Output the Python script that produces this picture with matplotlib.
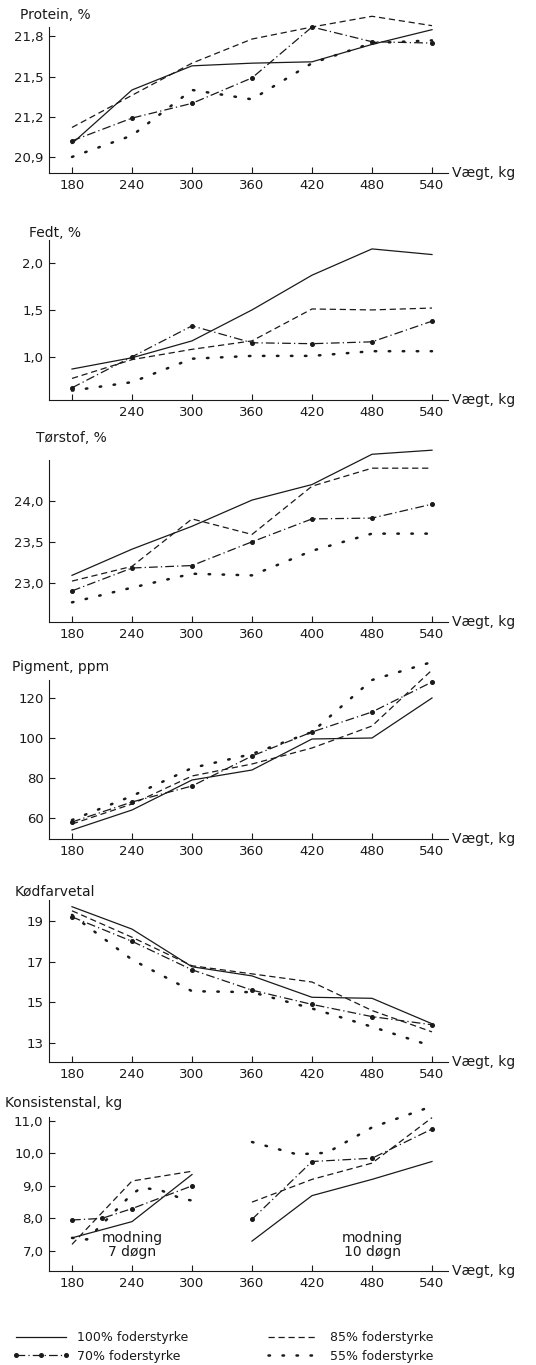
import matplotlib.pyplot as plt

# weights (kg) and tick labels
weights = [180, 240, 300, 360, 420, 480, 540]
xlabels = ["180", "240", "300", "360", "420", "480", "540"]
xlabels_fedt = ["", "240", "300", "360", "420", "480", "540"]
xlabels_tor = ["180", "240", "300", "360", "400", "480", "540"]

# Protein, %
prot_100 = [21.00, 21.40, 21.58, 21.60, 21.61, 21.74, 21.85]
prot_85 = [21.12, 21.36, 21.60, 21.78, 21.87, 21.95, 21.88]
prot_70 = [21.02, 21.19, 21.30, 21.49, 21.87, 21.76, 21.75]
prot_55 = [20.90, 21.06, 21.40, 21.33, 21.60, 21.75, 21.77]

# Fedt, %
fedt_100 = [0.87, 0.99, 1.17, 1.50, 1.87, 2.15, 2.09]
fedt_85 = [0.77, 0.97, 1.08, 1.17, 1.51, 1.50, 1.52]
fedt_70 = [0.67, 1.00, 1.33, 1.15, 1.14, 1.16, 1.38]
fedt_55 = [0.64, 0.73, 0.98, 1.01, 1.01, 1.06, 1.06]

# Tørstof, %
tor_100 = [23.09, 23.41, 23.69, 24.01, 24.20, 24.57, 24.62]
tor_85 = [23.02, 23.20, 23.78, 23.59, 24.18, 24.40, 24.40]
tor_70 = [22.90, 23.18, 23.21, 23.50, 23.78, 23.79, 23.96]
tor_55 = [22.76, 22.94, 23.11, 23.09, 23.39, 23.60, 23.60]

# Pigment, ppm
pig_100 = [54, 64, 79, 84, 99.5, 100, 120]
pig_85 = [57, 67, 81, 87, 95, 106, 134]
pig_70 = [58, 68, 76, 91, 103, 113, 128]
pig_55 = [59, 71, 85, 92, 103, 129, 138]

# Kødfarvetal
kod_100 = [19.7, 18.6, 16.75, 16.3, 15.25, 15.2, 13.95]
kod_85 = [19.5, 18.2, 16.8, 16.4, 16.0, 14.6, 13.55]
kod_70 = [19.2, 18.0, 16.6, 15.6, 14.9, 14.3, 13.9]
kod_55 = [19.3, 17.1, 15.55, 15.5, 14.7, 13.8, 12.85]

# Konsistenstal, kg  (7 døgn / 10 døgn modning)
w7 = [180, 240, 300]
kon7_100 = [7.4, 7.9, 9.35]
kon7_85 = [7.2, 9.15, 9.45]
w7_70 = [180, 210, 240, 300]
kon7_70 = [7.95, 8.0, 8.3, 9.0]
w7_55 = [180, 195, 240, 250, 270, 290, 300]
kon7_55 = [7.4, 7.35, 8.75, 8.95, 8.85, 8.6, 8.55]
w10 = [360, 420, 480, 540]
kon10_100 = [7.3, 8.7, 9.2, 9.75]
kon10_85 = [8.5, 9.2, 9.7, 11.1]
kon10_70 = [7.97, 9.75, 9.85, 10.75]
w10_55 = [360, 405, 435, 480, 540]
kon10_55 = [10.35, 9.97, 10.02, 10.8, 11.45]

labels = ["100% foderstyrke", "85% foderstyrke", "70% foderstyrke", "55% foderstyrke"]

ink = "#1a1a1a"
styles = {
    100: dict(color=ink, lw=0.9, linestyle="-"),
    85: dict(color=ink, lw=0.9, linestyle=(0, (5, 3))),
    70: dict(color=ink, lw=0.9, linestyle=(0, (7, 2.5, 1, 2.5)), marker="o", ms=2.6),
    55: dict(color=ink, lw=1.8, linestyle=(0, (0.6, 5)), dash_capstyle="round"),
}

W, H = 536, 1365
fig = plt.figure(figsize=(W / 100, H / 100), dpi=100)
L, R = 49, 448


def panel(top, bottom, ylim, yticks, ylabels, title, tdx, tdy, xl=xlabels):
    ax = fig.add_axes([L / W, 1 - bottom / H, (R - L) / W, (bottom - top) / H])
    ax.set_xlim(157, 556)
    ax.set_ylim(*ylim)
    for s in ["top", "right"]:
        ax.spines[s].set_visible(False)
    for s in ["left", "bottom"]:
        ax.spines[s].set_linewidth(0.8)
        ax.spines[s].set_color(ink)
    ax.set_xticks(weights)
    ax.set_xticklabels(xl)
    ax.set_yticks(yticks)
    ax.set_yticklabels(ylabels)
    ax.tick_params(direction="in", length=4, width=0.8, colors=ink, labelsize=9.5, pad=4)
    ax.annotate(title, xy=(0, 1), xycoords="axes fraction", xytext=(tdx, tdy),
                textcoords="offset pixels", ha="left", va="center", fontsize=10, color=ink)
    ax.annotate("Vægt, kg", xy=(1, 0), xycoords="axes fraction", xytext=(4, 0),
                textcoords="offset pixels", ha="left", va="center", fontsize=10, color=ink)
    return ax


def draw(ax, xs, series):
    for key, ys in zip([100, 85, 70, 55], series):
        x = xs[key] if isinstance(xs, dict) else xs
        ax.plot(x, ys, clip_on=False, **styles[key])


ax1 = panel(27, 173, (20.78, 21.87), [20.9, 21.2, 21.5, 21.8], ["20,9", "21,2", "21,5", "21,8"],
            "Protein, %", -29, 12)
draw(ax1, weights, [prot_100, prot_85, prot_70, prot_55])

ax2 = panel(240, 400, (0.54, 2.245), [1.0, 1.5, 2.0], ["1,0", "1,5", "2,0"],
            "Fedt, %", -20, 7, xlabels_fedt)
draw(ax2, weights, [fedt_100, fedt_85, fedt_70, fedt_55])

ax3 = panel(460, 622, (22.52, 24.5), [23.0, 23.5, 24.0], ["23,0", "23,5", "24,0"],
            "Tørstof, %", -13, 22, xlabels_tor)
draw(ax3, weights, [tor_100, tor_85, tor_70, tor_55])

ax4 = panel(680, 839, (49.5, 129), [60, 80, 100, 120], ["60", "80", "100", "120"],
            "Pigment, ppm", -37, 13)
draw(ax4, weights, [pig_100, pig_85, pig_70, pig_55])

ax5 = panel(900, 1062, (12.07, 20.03), [13, 15, 17, 19], ["13", "15", "17", "19"],
            "Kødfarvetal", -34, 8)
draw(ax5, weights, [kod_100, kod_85, kod_70, kod_55])

ax6 = panel(1117, 1271, (6.38, 11.12), [7, 8, 9, 10, 11], ["7,0", "8,0", "9,0", "10,0", "11,0"],
            "Konsistenstal, kg", -44, 14)
draw(ax6, {100: w7, 85: w7, 70: w7_70, 55: w7_55}, [kon7_100, kon7_85, kon7_70, kon7_55])
draw(ax6, {100: w10, 85: w10, 70: w10, 55: w10_55}, [kon10_100, kon10_85, kon10_70, kon10_55])
ax6.text(240, 7.18, "modning\n7 døgn", ha="center", va="center", fontsize=10, color=ink,
         linespacing=1.05)
ax6.text(480, 7.18, "modning\n10 døgn", ha="center", va="center", fontsize=10, color=ink,
         linespacing=1.05)

handles = [ax1.lines[i] for i in [0, 2, 1, 3]]
leg_labels = [labels[i] for i in [0, 2, 1, 3]]
fig.legend(handles, leg_labels, loc="upper left", bbox_to_anchor=(12 / W, 1 - 1331 / H),
           ncol=2, frameon=False, fontsize=9, handlelength=4.6, handletextpad=0.6,
           columnspacing=6.1, labelspacing=0.45, borderpad=0, borderaxespad=0, numpoints=3,
           labelcolor=ink)

fig.savefig("out.png", dpi=100)
